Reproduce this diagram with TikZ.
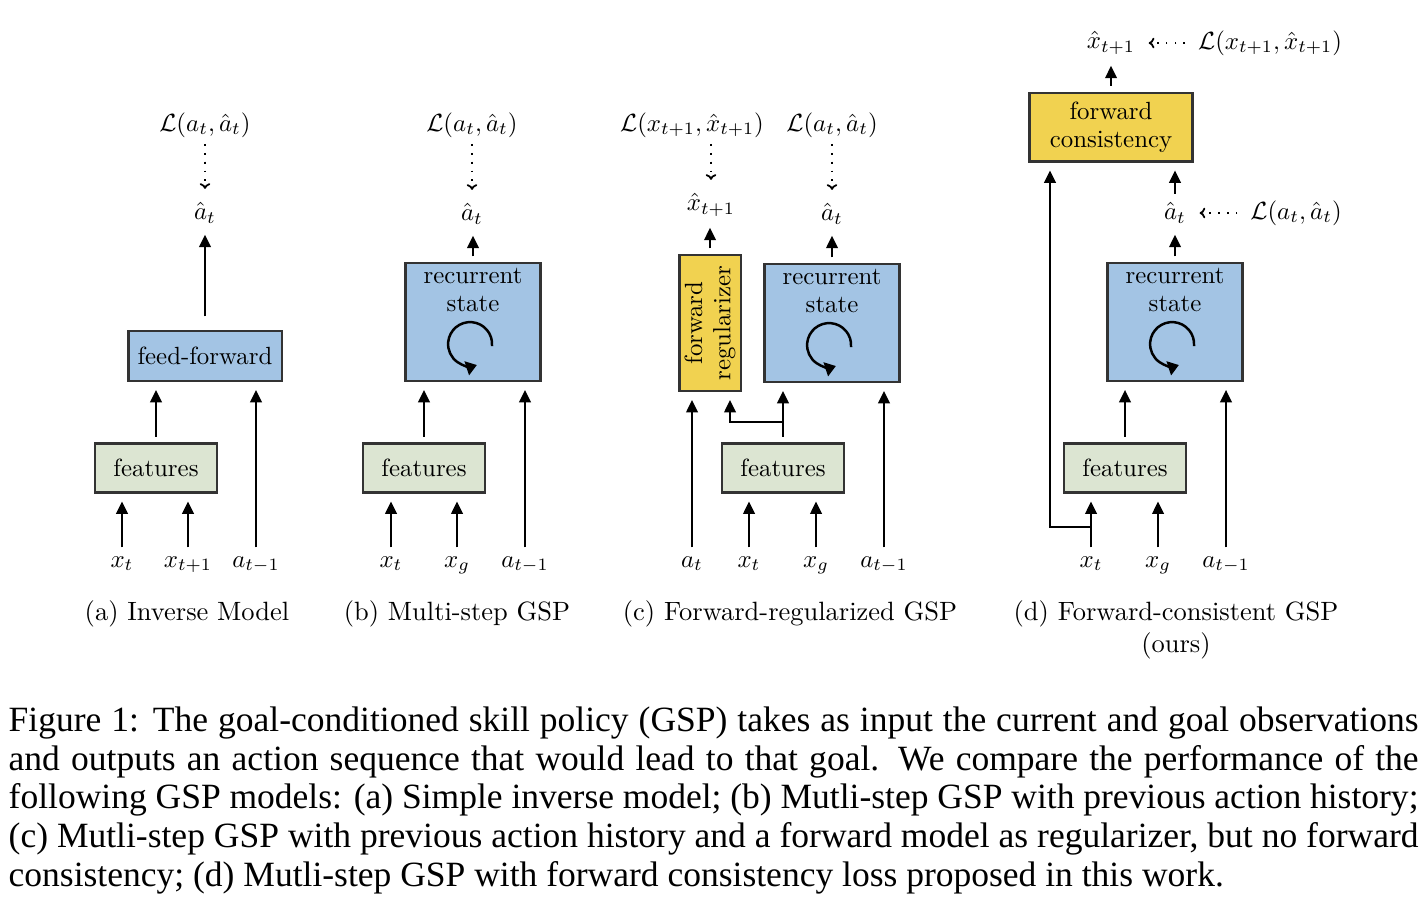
\documentclass[tikz,border=0pt]{standalone}
\usepackage{fontspec}
\usetikzlibrary{arrows.meta}
\newfontfamily\capfont{Liberation Serif}
\definecolor{netblue}{RGB}{163,196,228}
\definecolor{fwdyellow}{RGB}{241,210,80}
\definecolor{featgreen}{RGB}{220,229,210}

\begin{document}
\begin{tikzpicture}[
    x=0.2816pt, y=-0.2816pt,
    lab/.style={font=\fontsize{10}{11.4}\selectfont, scale=0.7, inner sep=1pt},
    box/.style={lab, rectangle, draw=black!80, line width=0.6pt, inner sep=0pt},
    feat/.style={box, fill=featgreen, minimum width=49.1pt, minimum height=19.7pt},
    net/.style={box, fill=netblue},
    rnn/.style={net, minimum width=54.3pt, minimum height=47.4pt},
    fwd/.style={box, fill=fwdyellow, align=center},
    inp/.style={lab, anchor=base},
    arr/.style={-{Triangle[length=3.5pt,width=3.2pt]}, line width=0.7pt, shorten <=1.7pt, shorten >=2.3pt},
    loss/.style={-{To[length=1.6pt,width=3pt]}, dotted, line width=0.5pt, shorten <=1pt, shorten >=3pt},
    loop/.style={-{Triangle[length=3pt,width=4pt]}, line width=0.7pt},
    sub/.style={font=\fontsize{10}{12}\selectfont, scale=0.745, align=center}
]
\useasboundingbox (0,0) rectangle (1428,904);

% (a) inverse model
\node[lab] (a-loss) at (205,125) {$\mathcal{L}(a_t,\hat{a}_t)$};
\node[lab] (a-ahat) at (205,213) {$\hat{a}_t$};
\node[net, minimum width=61.6pt, minimum height=20.1pt] (a-ff) at (205,356) {feed-forward};
\node[feat] (a-feat) at (156,468) {features};
\node[inp] (a-xt) at (122,567) {$x_t$};
\node[inp] (a-xt1) at (188,567) {$x_{t+1}$};
\node[inp] (a-am1) at (256,567) {$a_{t-1}$};

\draw[loss] (a-loss) -- (a-ahat);
\draw[arr, shorten <=3.9pt] (a-ff.north) -- (a-ahat.south);
\draw[arr] (a-feat.north) -- (a-feat.north |- a-ff.south);
\draw[arr] (a-am1) -- (a-am1 |- a-ff.south);
\draw[arr] (a-xt) -- (a-xt |- a-feat.south);
\draw[arr] (a-xt1) -- (a-xt1 |- a-feat.south);

% (b) multi-step GSP
\node[lab] (b-loss) at (472,125) {$\mathcal{L}(a_t,\hat{a}_t)$};
\node[lab] (b-ahat) at (472,214) {$\hat{a}_t$};
\node[rnn] (b-rs) at (473,322) {};
\node[lab, align=center] (b-rstxt) at (473,290) {recurrent\\state};
\node[feat] (b-feat) at (424,468) {features};
\node[inp] (b-xt) at (391,567) {$x_t$};
\node[inp] (b-xg) at (457,567) {$x_g$};
\node[inp] (b-am1) at (525,567) {$a_{t-1}$};

\draw[loop] ([shift={(19,24)}]b-rs.center) arc[start angle=5, end angle=-288, radius=22];
\draw[loss] (b-loss) -- (b-ahat);
\draw[arr] (b-rs.north) -- (b-rs.north |- b-ahat.south);
\draw[arr] (b-feat.north) -- (b-feat.north |- b-rs.south);
\draw[arr] (b-am1) -- (b-am1 |- b-rs.south);
\draw[arr] (b-xt) -- (b-xt |- b-feat.south);
\draw[arr] (b-xg) -- (b-xg |- b-feat.south);

% (c) forward-regularized GSP
\node[lab] (c-lossx) at (692,125) {$\mathcal{L}(x_{t+1},\hat{x}_{t+1})$};
\node[lab] (c-xhat) at (711,205) {$\hat{x}_{t+1}$};
\node[lab] (c-lossa) at (832,125) {$\mathcal{L}(a_t,\hat{a}_t)$};
\node[lab] (c-ahat) at (832,214) {$\hat{a}_t$};
\node[fwd, rotate=90, minimum width=54.7pt, minimum height=24.6pt] (c-fr) at (710,323) {forward\\regularizer};
\node[rnn] (c-rs) at (832,323) {};
\node[lab, align=center] (c-rstxt) at (832,291) {recurrent\\state};
\node[feat] (c-feat) at (783,468) {features};
\node[inp] (c-at) at (692,567) {$a_t$};
\node[inp] (c-xt) at (749,567) {$x_t$};
\node[inp] (c-xg) at (816,567) {$x_g$};
\node[inp] (c-am1) at (884,567) {$a_{t-1}$};
\coordinate (c-split) at (783,422);
\coordinate (c-frin) at (730,0);

\draw[loop] ([shift={(19,24)}]c-rs.center) arc[start angle=5, end angle=-288, radius=22];
\draw[loss] (c-xhat |- c-lossx.south) -- (c-xhat);
\draw[loss] (c-lossa) -- (c-ahat);
\draw[arr] (c-fr.east) -- (c-fr.east |- c-xhat.south);
\draw[arr] (c-rs.north) -- (c-rs.north |- c-ahat.south);
\draw[arr] (c-feat.north) -- (c-feat.north |- c-rs.south);
\draw[arr, shorten <=0pt] (c-split) -| (c-frin |- c-fr.west);
\draw[arr] (c-at) -- (c-at |- c-fr.west);
\draw[arr] (c-am1) -- (c-am1 |- c-rs.south);
\draw[arr] (c-xt) -- (c-xt |- c-feat.south);
\draw[arr] (c-xg) -- (c-xg |- c-feat.south);

% (d) forward-consistent GSP
\node[lab] (d-xhat) at (1111,43) {$\hat{x}_{t+1}$};
\node[lab] (d-lossx) at (1270,43) {$\mathcal{L}(x_{t+1},\hat{x}_{t+1})$};
\node[fwd, minimum width=65.6pt, minimum height=27.7pt] (d-fc) at (1111,127) {forward\\consistency};
\node[lab] (d-ahat) at (1175,213) {$\hat{a}_t$};
\node[lab] (d-lossa) at (1296,213) {$\mathcal{L}(a_t,\hat{a}_t)$};
\node[rnn] (d-rs) at (1175,322) {};
\node[lab, align=center] (d-rstxt) at (1175,290) {recurrent\\state};
\node[feat] (d-feat) at (1125,468) {features};
\node[inp] (d-xt) at (1091,567) {$x_t$};
\node[inp] (d-xg) at (1158,567) {$x_g$};
\node[inp] (d-am1) at (1226,567) {$a_{t-1}$};
\coordinate (d-split) at (1091,527);
\coordinate (d-fcin) at (1050,0);

\draw[loop] ([shift={(19,24)}]d-rs.center) arc[start angle=5, end angle=-288, radius=22];
\draw[loss, shorten <=2.8pt] (d-lossx.west) -- (d-xhat.east);
\draw[loss, shorten <=2.8pt] (d-lossa.west) -- (d-ahat.east);
\draw[arr] (d-fc.north) -- (d-fc.north |- d-xhat.south);
\draw[arr] (d-ahat.north) -- (d-ahat.north |- d-fc.south);
\draw[arr] (d-rs.north) -- (d-rs.north |- d-ahat.south);
\draw[arr] (d-feat.north) -- (d-feat.north |- d-rs.south);
\draw[arr] (d-am1) -- (d-am1 |- d-rs.south);
\draw[arr] (d-xt) -- (d-xt |- d-feat.south);
\draw[arr, shorten <=0pt] (d-split) -| (d-fcin |- d-fc.south);
\draw[arr] (d-xg) -- (d-xg |- d-feat.south);

% sub-captions
\node[sub] (a-cap) at (187,614) {(a) Inverse Model};
\node[sub] (b-cap) at (457,614) {(b) Multi-step GSP};
\node[sub] (c-cap) at (790,614) {(c) Forward-regularized GSP};
\node[sub] (d-cap) at (1176,630) {(d) Forward-consistent GSP\\(ours)};

% caption
\node[anchor=north west, inner sep=0pt, text width=397pt, align=justify,
      font=\capfont\fontsize{10}{10.9}\selectfont] (cap) at (8,706)
  {Figure 1: The goal-conditioned skill policy (GSP) takes as input the current and goal observations and outputs an action sequence that would lead to that goal. We compare the performance of the following GSP models: (a) Simple inverse model; (b) Mutli-step GSP with previous action history; (c) Mutli-step GSP with previous action history and a forward model as regularizer, but no forward consistency; (d) Mutli-step GSP with forward consistency loss proposed in this work.};
\end{tikzpicture}
\end{document}
